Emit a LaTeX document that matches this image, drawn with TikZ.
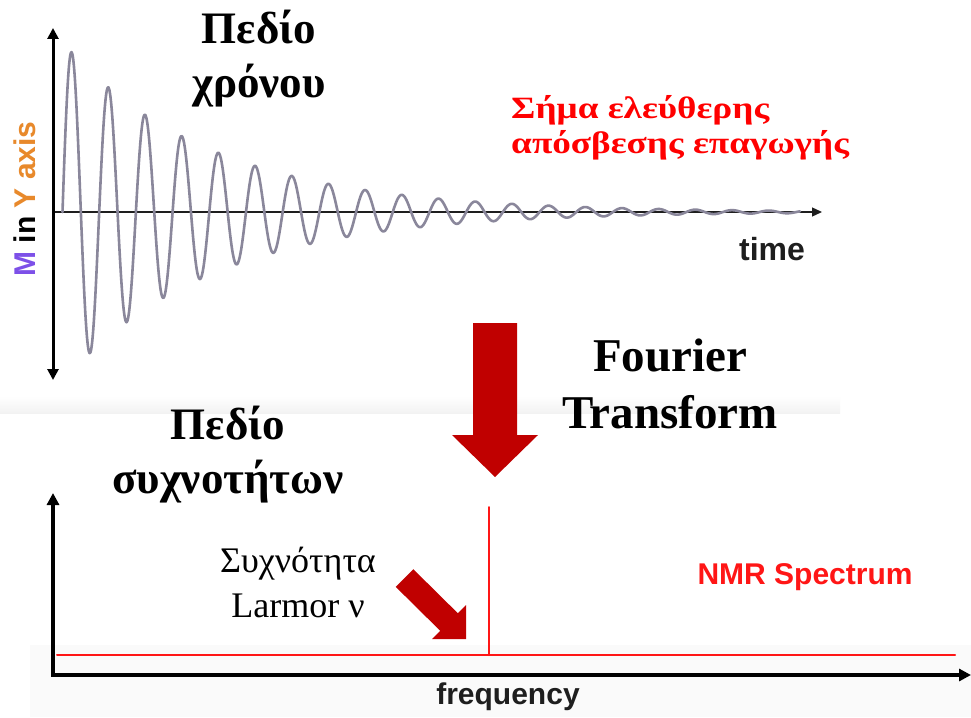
\documentclass[tikz,border=0pt]{standalone}
\usepackage{fontspec}
\setmainfont{Liberation Serif}
\setsansfont{Liberation Sans}
\usepackage{tikz}
\usetikzlibrary{arrows.meta}
\definecolor{wavegray}{RGB}{138,135,155}
\definecolor{darkred}{RGB}{192,0,0}
\definecolor{mpurple}{RGB}{125,80,232}
\definecolor{yorange}{RGB}{232,137,43}
\definecolor{specred}{RGB}{255,22,22}
\definecolor{axisgray}{RGB}{30,30,30}

\begin{document}
\begin{tikzpicture}[line cap=round,line join=round,x=1pt,y=-1pt,
    greektitle/.style={align=center,font=\fontsize{45}{54}\selectfont\bfseries},
    sanslabel/.style={font=\fontsize{30}{36}\selectfont\sffamily\bfseries}]
      \useasboundingbox (0,0) rectangle (971,717);
      \fill[white] (0,0) rectangle (971,717);
      % faint screenshot edges
      \shade[top color=white,bottom color=black!5] (0,396) rectangle (840,413);
      \fill[black!2] (30,645) rectangle (971,717);
      % time domain
      \coordinate (ytop) at (53,28);
      \coordinate (ybot) at (53,380);
      \coordinate (tstart) at (53,212);
      \coordinate (tend) at (822,212);
      \draw[color=axisgray,line width=1.3pt,-{Triangle[length=10pt,width=9pt]}] (tstart) -- (tend);
      \draw[color=wavegray,line width=2.6pt,smooth,samples=900,domain=62.5:800]
        plot(\x,{212-170*exp(-(\x-62.5)/148)*sin(9.8093*(\x-62.5))});
      \draw[color=black,line width=3pt,{Triangle[length=11pt,width=11pt]}-{Triangle[length=11pt,width=11pt]}] (ybot) -- (ytop);
      \node (ylabel) at (35,199) [rotate=90,anchor=base,sanslabel] {\textcolor{mpurple}{M} in \textcolor{yorange}{Y axis}};
      \node (timelabel) at (772,260) [anchor=base,font=\fontsize{32}{38}\selectfont\sffamily\bfseries,color=axisgray] {time};
      \node (timetitle) at (259,97) [anchor=base,greektitle] {Πεδίο\\χρόνου};
      \node (fid) at (507,153) [anchor=base west,align=left,color=red,xscale=1.2,font=\fontsize{31}{35}\selectfont\bfseries] {Σήμα ελεύθερης\\απόσβεσης επαγωγής};
      % Fourier transform arrow
      \fill[color=darkred] (473,323) -- (517,323) -- (517,435) -- (538,435) -- (495,477) -- (452,435) -- (473,435) -- cycle;
      \node (fourier) at (670,428) [anchor=base,align=center,font=\fontsize{47}{57}\selectfont\bfseries] {Fourier\\Transform};
      % frequency domain
      \coordinate (ftop) at (53,493);
      \coordinate (forigin) at (53,675);
      \coordinate (fend) at (971,675);
      \draw[color=black,line width=4pt,line cap=butt,line join=miter,{Triangle[length=12pt,width=12pt]}-{Triangle[length=12pt,width=12pt]}] (ftop) -- (forigin) -- (fend);
      \coordinate (bleft) at (57,655);
      \coordinate (bright) at (955,655);
      \coordinate (pbase) at (489,655);
      \coordinate (ptop) at (489,507);
      \draw[color=specred,line width=2pt] (bleft) -- (bright);
      \draw[color=specred,line width=2pt] (pbase) -- (ptop);
      \node (freqtitle) at (228,493) [anchor=base,greektitle] {Πεδίο\\συχνοτήτων};
      \node (nmr) at (694,584) [anchor=base west,sanslabel,color=specred] {NMR Spectrum};
      \node (freqlabel) at (508,704) [anchor=base,sanslabel,color=axisgray] {frequency};
      \node (larmor) at (298,617) [anchor=base,align=center,font=\fontsize{36}{45}\selectfont] {Συχνότητα\\Larmor ν};
      \fill[color=darkred] (413.3,569.2) -- (457.8,613.2) -- (466,605) -- (466,639) -- (432,639) -- (440.2,630.8) -- (395.7,586.8) -- cycle;
    \end{tikzpicture}
\end{document}
